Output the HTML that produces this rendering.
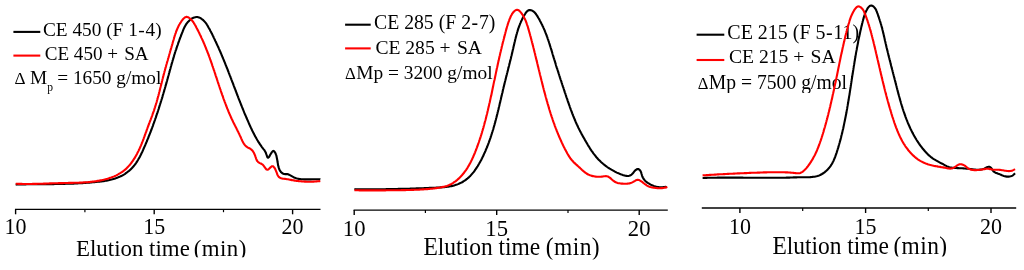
<!DOCTYPE html>
<html><head><meta charset="utf-8"><title>Elution time chromatograms</title>
<style>html,body{margin:0;padding:0;background:#fff}body{width:1024px;height:270px;overflow:hidden}</style></head>
<body>
<svg width="1024" height="270" viewBox="0 0 1024 270" style="display:block;font-family:'Liberation Serif','Times New Roman',serif" fill="#000">
<rect width="1024" height="270" fill="#fff"/>
<g style="opacity:0.999" fill="#000"><path d="M13.4 31.9 H40.3" stroke="#000" stroke-width="2.1" fill="none"/><path d="M13.4 55.6 H40.3" stroke="#f00" stroke-width="2.1" fill="none"/><text transform="translate(0 36.0) scale(1 1.01)" x="43.0" y="0" font-size="19.3" >CE 450 (F 1<tspan dx="0.5" letter-spacing="0.8">-</tspan>4)</text><text transform="translate(0 59.5) scale(1 1.01)" x="44.7" y="0" font-size="19.1" >CE 450 <tspan letter-spacing="1.4">+</tspan> SA</text><text transform="translate(0 84.4) scale(1 1.02)" y="0" font-size="19.3"><tspan x="14.4" font-size="17.2">Δ </tspan><tspan x="30">M</tspan><tspan x="47.2" font-size="11.6" dy="6.1">p </tspan><tspan x="57.2" dy="-6.1">= 1650 g/mol</tspan></text><path d="M15.0 209.3 H320.5" stroke="#000" stroke-width="1.3" fill="none"/><path d="M15.6 209.3 v5" stroke="#000" stroke-width="1.4" fill="none"/><path d="M154.2 209.3 v5" stroke="#000" stroke-width="1.4" fill="none"/><path d="M292.6 209.3 v5" stroke="#000" stroke-width="1.4" fill="none"/><path d="M84.9 209.3 v2.9" stroke="#000" stroke-width="1.2" fill="none"/><path d="M223.5 209.3 v2.9" stroke="#000" stroke-width="1.2" fill="none"/><text transform="translate(0 234.3) scale(1 1.05)" x="15.6" y="0" font-size="22" text-anchor="middle">10</text><text transform="translate(0 234.3) scale(1 1.05)" x="154.2" y="0" font-size="22" text-anchor="middle">15</text><text transform="translate(0 234.3) scale(1 1.05)" x="292.6" y="0" font-size="22" text-anchor="middle">20</text><text transform="translate(0 255.9) scale(1 1.05)" x="76.0" y="0" font-size="22.9" >Elution time <tspan dx="-1.7" letter-spacing="0.4">(min)</tspan></text><path d="M345.1 24.7 H370.7" stroke="#000" stroke-width="2.1" fill="none"/><path d="M345.1 48.4 H370.7" stroke="#f00" stroke-width="2.1" fill="none"/><text transform="translate(0 29.0) scale(1 1.01)" x="374.0" y="0" font-size="19.75" >CE 285 (F 2<tspan dx="0.5" letter-spacing="0.8">-</tspan>7)</text><text transform="translate(0 53.7) scale(1 1.01)" x="375.4" y="0" font-size="19.6" >CE 285 <tspan letter-spacing="1.4">+</tspan> SA</text><text transform="translate(0 79.1) scale(1 1.02)" y="0" font-size="19.4"><tspan x="345" font-size="16.8">Δ</tspan><tspan x="356.2">Mp = 3200 g/mol</tspan></text><path d="M353.6 210.1 H667.8" stroke="#000" stroke-width="1.3" fill="none"/><path d="M354.2 210.1 v5" stroke="#000" stroke-width="1.4" fill="none"/><path d="M496.7 210.1 v5" stroke="#000" stroke-width="1.4" fill="none"/><path d="M639.2 210.1 v5" stroke="#000" stroke-width="1.4" fill="none"/><path d="M425.4 210.1 v2.9" stroke="#000" stroke-width="1.2" fill="none"/><path d="M568.0 210.1 v2.9" stroke="#000" stroke-width="1.2" fill="none"/><text transform="translate(0 235.5) scale(1 1.05)" x="354.2" y="0" font-size="22.7" text-anchor="middle">10</text><text transform="translate(0 235.5) scale(1 1.05)" x="496.7" y="0" font-size="22.7" text-anchor="middle">15</text><text transform="translate(0 235.5) scale(1 1.05)" x="639.2" y="0" font-size="22.7" text-anchor="middle">20</text><text transform="translate(0 254.9) scale(1 1.05)" x="423.5" y="0" font-size="23.5" >Elution time <tspan dx="-0.3" letter-spacing="0.4">(min)</tspan></text><path d="M696.6 34.7 H724.3" stroke="#000" stroke-width="2.1" fill="none"/><path d="M696.6 60.0 H724.3" stroke="#f00" stroke-width="2.1" fill="none"/><text transform="translate(0 39.0) scale(1 1.01)" x="727.3" y="0" font-size="20" >CE 215 (F 5<tspan dx="0.4" letter-spacing="0.6">-</tspan>11)</text><text transform="translate(0 63.0) scale(1 1.01)" x="729.0" y="0" font-size="19.6" >CE 215 <tspan letter-spacing="1.4">+</tspan> SA</text><text transform="translate(0 88.8) scale(1 1.02)" y="0" font-size="19.65"><tspan x="697.8" font-size="16.6">Δ</tspan><tspan x="708.8">Mp = 7500 g/mol</tspan></text><path d="M701.8 208.0 H1016.2" stroke="#000" stroke-width="1.3" fill="none"/><path d="M739.9 208.0 v5" stroke="#000" stroke-width="1.4" fill="none"/><path d="M865.6 208.0 v5" stroke="#000" stroke-width="1.4" fill="none"/><path d="M991.0 208.0 v5" stroke="#000" stroke-width="1.4" fill="none"/><path d="M802.7 208.0 v2.9" stroke="#000" stroke-width="1.2" fill="none"/><path d="M928.3 208.0 v2.9" stroke="#000" stroke-width="1.2" fill="none"/><text transform="translate(0 233.7) scale(1 1.05)" x="739.9" y="0" font-size="22" text-anchor="middle">10</text><text transform="translate(0 233.7) scale(1 1.05)" x="865.6" y="0" font-size="22" text-anchor="middle">15</text><text transform="translate(0 233.7) scale(1 1.05)" x="991.0" y="0" font-size="22" text-anchor="middle">20</text><text transform="translate(0 254.2) scale(1 1.05)" x="772.4" y="0" font-size="23.45" >Elution time <tspan dx="-1.4" letter-spacing="0.4">(min)</tspan></text><rect x="0" y="257.3" width="340" height="13" fill="#fff"/><rect x="340" y="259.5" width="345" height="11" fill="#fff"/><rect x="685" y="256.5" width="339" height="14" fill="#fff"/></g>
<path d="M15.7 184.6 L16.7 184.5 L17.7 184.5 L18.7 184.5 L19.7 184.5 L20.7 184.4 L21.7 184.4 L22.7 184.4 L23.7 184.4 L24.7 184.4 L25.7 184.4 L26.7 184.3 L27.7 184.3 L28.7 184.3 L29.7 184.3 L30.7 184.3 L31.7 184.3 L32.7 184.3 L33.7 184.2 L34.7 184.2 L35.7 184.2 L36.7 184.2 L37.7 184.2 L38.7 184.2 L39.7 184.2 L40.7 184.2 L41.7 184.2 L42.7 184.2 L43.7 184.2 L44.7 184.2 L45.7 184.1 L46.7 184.1 L47.7 184.1 L48.7 184.1 L49.7 184.1 L50.7 184.1 L51.7 184.1 L52.7 184.1 L53.7 184.1 L54.7 184.0 L55.7 184.0 L56.7 184.0 L57.7 184.0 L58.7 184.0 L59.7 184.0 L60.7 183.9 L61.7 183.9 L62.7 183.9 L63.7 183.9 L64.7 183.9 L65.7 183.8 L66.7 183.8 L67.7 183.8 L68.7 183.7 L69.7 183.7 L70.7 183.7 L71.7 183.6 L72.6 183.6 L73.6 183.6 L74.6 183.5 L75.6 183.5 L76.6 183.4 L77.6 183.4 L78.6 183.3 L79.6 183.3 L80.6 183.2 L81.6 183.2 L82.6 183.1 L83.6 183.0 L84.6 183.0 L85.6 182.9 L86.6 182.8 L87.6 182.8 L88.6 182.7 L89.6 182.6 L90.6 182.5 L91.6 182.4 L92.6 182.3 L93.6 182.2 L94.6 182.1 L95.6 182.0 L96.7 181.9 L97.7 181.8 L98.7 181.7 L99.7 181.6 L100.7 181.5 L101.7 181.4 L102.7 181.2 L103.7 181.1 L104.7 180.9 L105.6 180.8 L106.6 180.6 L107.6 180.4 L108.6 180.2 L109.6 180.0 L110.5 179.8 L111.5 179.5 L112.5 179.3 L113.4 179.0 L114.4 178.7 L115.3 178.4 L116.3 178.1 L117.2 177.8 L118.1 177.4 L119.0 177.0 L119.9 176.6 L120.8 176.2 L121.7 175.8 L122.6 175.3 L123.4 174.8 L124.3 174.3 L125.1 173.8 L125.9 173.2 L126.7 172.6 L127.5 172.0 L128.3 171.4 L129.1 170.8 L129.9 170.1 L130.6 169.4 L131.3 168.7 L132.0 168.0 L132.7 167.2 L133.4 166.5 L134.0 165.7 L134.7 164.9 L135.3 164.1 L135.9 163.3 L136.4 162.5 L137.0 161.7 L137.5 160.8 L138.0 160.0 L138.5 159.1 L139.0 158.2 L139.5 157.4 L140.0 156.5 L140.4 155.6 L140.9 154.7 L141.3 153.8 L141.7 152.9 L142.2 152.0 L142.6 151.1 L143.0 150.2 L143.4 149.2 L143.8 148.3 L144.2 147.4 L144.6 146.5 L145.0 145.6 L145.4 144.7 L145.8 143.7 L146.2 142.8 L146.6 141.9 L147.0 141.0 L147.3 140.0 L147.7 139.1 L148.1 138.2 L148.5 137.3 L148.8 136.3 L149.2 135.4 L149.6 134.5 L149.9 133.5 L150.3 132.6 L150.7 131.7 L151.0 130.7 L151.4 129.8 L151.7 128.9 L152.1 127.9 L152.4 127.0 L152.8 126.1 L153.1 125.1 L153.4 124.2 L153.8 123.2 L154.1 122.3 L154.4 121.4 L154.8 120.4 L155.1 119.5 L155.4 118.5 L155.8 117.6 L156.1 116.6 L156.4 115.7 L156.7 114.7 L157.0 113.8 L157.4 112.9 L157.7 111.9 L158.0 111.0 L158.3 110.0 L158.6 109.1 L158.9 108.1 L159.2 107.1 L159.5 106.2 L159.8 105.2 L160.1 104.3 L160.4 103.3 L160.7 102.4 L161.0 101.4 L161.3 100.5 L161.6 99.5 L161.9 98.6 L162.2 97.6 L162.5 96.6 L162.7 95.7 L163.0 94.7 L163.3 93.8 L163.6 92.8 L163.9 91.8 L164.2 90.9 L164.4 89.9 L164.7 89.0 L165.0 88.0 L165.3 87.0 L165.5 86.1 L165.8 85.1 L166.1 84.1 L166.4 83.2 L166.6 82.2 L166.9 81.3 L167.2 80.3 L167.4 79.3 L167.7 78.4 L168.0 77.4 L168.2 76.4 L168.5 75.5 L168.8 74.5 L169.0 73.5 L169.3 72.6 L169.6 71.6 L169.8 70.6 L170.1 69.7 L170.4 68.7 L170.6 67.8 L170.9 66.8 L171.2 65.8 L171.4 64.9 L171.7 63.9 L172.0 62.9 L172.3 62.0 L172.5 61.0 L172.8 60.1 L173.1 59.1 L173.4 58.1 L173.7 57.2 L174.0 56.2 L174.2 55.3 L174.5 54.3 L174.8 53.4 L175.1 52.4 L175.4 51.5 L175.7 50.5 L176.1 49.6 L176.4 48.6 L176.7 47.7 L177.0 46.7 L177.3 45.8 L177.7 44.8 L178.0 43.9 L178.3 42.9 L178.7 42.0 L179.0 41.1 L179.3 40.1 L179.7 39.2 L180.0 38.2 L180.4 37.3 L180.8 36.4 L181.1 35.4 L181.5 34.5 L181.8 33.6 L182.2 32.6 L182.6 31.7 L182.9 30.8 L183.3 29.8 L183.7 28.9 L184.1 28.0 L184.6 27.1 L185.0 26.2 L185.5 25.4 L186.0 24.5 L186.6 23.7 L187.2 22.9 L187.8 22.1 L188.5 21.4 L189.2 20.7 L189.9 20.0 L190.8 19.3 L191.6 18.7 L192.5 18.2 L193.4 17.8 L194.4 17.4 L195.3 17.2 L196.3 17.0 L197.3 17.0 L198.2 17.2 L199.1 17.5 L200.1 17.9 L200.9 18.4 L201.7 19.0 L202.5 19.6 L203.3 20.2 L204.0 20.9 L204.6 21.6 L205.3 22.4 L205.9 23.1 L206.5 23.9 L207.0 24.8 L207.5 25.6 L208.0 26.5 L208.5 27.4 L209.0 28.3 L209.5 29.1 L210.0 30.0 L210.4 30.9 L210.9 31.8 L211.4 32.7 L211.8 33.6 L212.3 34.5 L212.7 35.4 L213.2 36.3 L213.6 37.2 L214.0 38.1 L214.5 39.1 L214.9 40.0 L215.3 40.9 L215.8 41.8 L216.2 42.7 L216.6 43.6 L217.0 44.5 L217.4 45.4 L217.9 46.3 L218.3 47.2 L218.7 48.1 L219.1 49.1 L219.5 50.0 L219.9 50.9 L220.3 51.8 L220.7 52.7 L221.1 53.6 L221.5 54.6 L221.8 55.5 L222.2 56.4 L222.6 57.3 L223.0 58.2 L223.4 59.2 L223.8 60.1 L224.1 61.0 L224.5 61.9 L224.9 62.8 L225.3 63.8 L225.6 64.7 L226.0 65.6 L226.4 66.6 L226.7 67.5 L227.1 68.4 L227.5 69.3 L227.8 70.3 L228.2 71.2 L228.6 72.1 L228.9 73.1 L229.3 74.0 L229.6 74.9 L230.0 75.9 L230.4 76.8 L230.7 77.7 L231.1 78.7 L231.4 79.6 L231.8 80.5 L232.1 81.5 L232.5 82.4 L232.9 83.3 L233.2 84.3 L233.6 85.2 L233.9 86.1 L234.3 87.1 L234.6 88.0 L235.0 88.9 L235.4 89.9 L235.7 90.8 L236.1 91.7 L236.4 92.7 L236.8 93.6 L237.1 94.5 L237.5 95.5 L237.9 96.4 L238.2 97.3 L238.6 98.3 L238.9 99.2 L239.3 100.1 L239.7 101.1 L240.0 102.0 L240.4 102.9 L240.8 103.9 L241.1 104.8 L241.5 105.7 L241.9 106.7 L242.3 107.6 L242.6 108.5 L243.0 109.4 L243.4 110.4 L243.8 111.3 L244.1 112.2 L244.5 113.2 L244.9 114.1 L245.3 115.0 L245.7 115.9 L246.1 116.8 L246.5 117.8 L246.9 118.7 L247.3 119.6 L247.7 120.5 L248.1 121.4 L248.5 122.4 L248.9 123.3 L249.3 124.2 L249.7 125.1 L250.1 126.0 L250.5 126.9 L250.9 127.8 L251.4 128.7 L251.8 129.6 L252.2 130.5 L252.7 131.4 L253.1 132.3 L253.6 133.2 L254.0 134.1 L254.5 135.0 L254.9 135.9 L255.4 136.7 L255.9 137.6 L256.4 138.5 L256.9 139.3 L257.4 140.2 L257.9 141.0 L258.4 141.9 L258.9 142.7 L259.5 143.5 L260.0 144.4 L260.6 145.2 L261.2 146.0 L261.7 146.8 L262.3 147.6 L262.9 148.3 L263.5 149.1 L264.2 149.9 L264.7 150.7 L265.3 151.7 L265.8 152.7 L266.2 153.9 L266.6 155.0 L267.0 156.1 L267.3 157.0 L267.7 157.5 L268.2 157.7 L268.7 157.3 L269.2 156.6 L269.8 155.6 L270.4 154.5 L271.1 153.4 L271.7 152.4 L272.4 151.6 L273.0 151.1 L273.6 150.9 L274.2 151.3 L274.7 151.9 L275.2 152.8 L275.7 153.8 L276.0 154.7 L276.4 155.7 L276.6 156.7 L276.8 157.7 L277.0 158.7 L277.2 159.7 L277.4 160.7 L277.5 161.8 L277.7 162.8 L277.9 163.9 L278.0 164.9 L278.3 165.9 L278.5 166.9 L278.8 167.9 L279.1 168.8 L279.5 169.7 L279.9 170.5 L280.5 171.3 L281.0 172.1 L281.7 172.7 L282.5 173.3 L283.3 173.7 L284.2 174.0 L285.2 174.1 L286.2 174.1 L287.2 174.1 L288.1 174.3 L289.0 174.7 L289.9 175.2 L290.8 175.7 L291.7 176.2 L292.6 176.7 L293.5 177.2 L294.4 177.6 L295.3 177.9 L296.2 178.2 L297.2 178.5 L298.1 178.7 L299.1 178.9 L300.1 179.0 L301.1 179.2 L302.1 179.3 L303.0 179.3 L304.0 179.4 L305.0 179.4 L306.1 179.4 L307.1 179.4 L308.1 179.4 L309.1 179.4 L310.1 179.4 L311.1 179.4 L312.1 179.3 L313.1 179.3 L314.1 179.3 L315.1 179.3 L316.1 179.3 L317.1 179.3 L318.1 179.3 L319.1 179.4 L320.1 179.4 L320.3 179.5" fill="none" stroke="#000" stroke-width="2.1" stroke-linejoin="round" stroke-linecap="butt"/>
<path d="M15.7 183.7 L16.7 183.8 L17.7 183.8 L18.7 183.9 L19.7 183.9 L20.7 183.9 L21.7 183.9 L22.7 184.0 L23.7 184.0 L24.7 184.0 L25.7 184.0 L26.7 184.0 L27.7 184.0 L28.7 184.0 L29.7 184.0 L30.7 184.0 L31.7 184.0 L32.7 183.9 L33.7 183.9 L34.7 183.9 L35.7 183.9 L36.7 183.9 L37.7 183.8 L38.7 183.8 L39.7 183.8 L40.7 183.7 L41.7 183.7 L42.7 183.7 L43.7 183.6 L44.7 183.6 L45.7 183.6 L46.7 183.5 L47.7 183.5 L48.7 183.5 L49.7 183.4 L50.7 183.4 L51.7 183.4 L52.7 183.3 L53.7 183.3 L54.7 183.3 L55.7 183.2 L56.7 183.2 L57.7 183.2 L58.7 183.1 L59.7 183.1 L60.7 183.1 L61.7 183.1 L62.7 183.1 L63.7 183.0 L64.7 183.0 L65.7 183.0 L66.7 183.0 L67.7 183.0 L68.7 182.9 L69.7 182.9 L70.7 182.9 L71.7 182.9 L72.7 182.9 L73.7 182.8 L74.7 182.8 L75.7 182.8 L76.6 182.8 L77.6 182.7 L78.6 182.7 L79.6 182.6 L80.6 182.6 L81.6 182.6 L82.6 182.5 L83.6 182.4 L84.6 182.4 L85.6 182.3 L86.6 182.2 L87.6 182.2 L88.6 182.1 L89.6 182.0 L90.6 181.9 L91.6 181.8 L92.6 181.6 L93.6 181.5 L94.6 181.4 L95.6 181.2 L96.6 181.1 L97.6 180.9 L98.6 180.8 L99.6 180.6 L100.6 180.4 L101.6 180.2 L102.6 180.0 L103.6 179.8 L104.6 179.5 L105.5 179.3 L106.5 179.0 L107.5 178.7 L108.4 178.4 L109.4 178.1 L110.3 177.8 L111.3 177.5 L112.2 177.1 L113.1 176.8 L114.1 176.4 L115.0 176.0 L115.9 175.6 L116.8 175.1 L117.6 174.7 L118.5 174.2 L119.3 173.7 L120.2 173.2 L121.0 172.7 L121.8 172.2 L122.6 171.6 L123.4 171.0 L124.2 170.4 L124.9 169.8 L125.7 169.2 L126.4 168.5 L127.1 167.8 L127.8 167.1 L128.4 166.4 L129.1 165.6 L129.8 164.9 L130.4 164.1 L131.0 163.3 L131.6 162.5 L132.2 161.7 L132.8 160.9 L133.3 160.0 L133.9 159.2 L134.4 158.3 L135.0 157.5 L135.5 156.6 L136.0 155.7 L136.5 154.8 L137.0 153.9 L137.4 153.0 L137.9 152.1 L138.4 151.1 L138.8 150.2 L139.2 149.3 L139.7 148.4 L140.1 147.4 L140.5 146.5 L140.9 145.6 L141.3 144.6 L141.7 143.7 L142.0 142.8 L142.4 141.9 L142.8 140.9 L143.1 140.0 L143.5 139.1 L143.8 138.2 L144.2 137.2 L144.5 136.3 L144.8 135.4 L145.2 134.5 L145.5 133.5 L145.8 132.6 L146.2 131.7 L146.5 130.8 L146.8 129.9 L147.2 128.9 L147.5 128.0 L147.8 127.1 L148.2 126.2 L148.5 125.2 L148.9 124.3 L149.2 123.4 L149.6 122.4 L149.9 121.5 L150.3 120.5 L150.7 119.6 L151.0 118.7 L151.4 117.7 L151.7 116.8 L152.1 115.8 L152.4 114.9 L152.7 113.9 L153.1 113.0 L153.4 112.0 L153.8 111.1 L154.1 110.1 L154.4 109.2 L154.7 108.2 L155.0 107.3 L155.3 106.3 L155.6 105.3 L155.9 104.4 L156.2 103.4 L156.5 102.5 L156.8 101.5 L157.0 100.5 L157.3 99.6 L157.6 98.6 L157.8 97.6 L158.1 96.7 L158.4 95.7 L158.6 94.7 L158.9 93.8 L159.1 92.8 L159.4 91.8 L159.6 90.9 L159.9 89.9 L160.1 88.9 L160.3 88.0 L160.6 87.0 L160.8 86.0 L161.1 85.1 L161.3 84.1 L161.6 83.1 L161.8 82.2 L162.0 81.2 L162.3 80.2 L162.5 79.3 L162.8 78.3 L163.0 77.3 L163.3 76.4 L163.5 75.4 L163.8 74.4 L164.0 73.5 L164.3 72.5 L164.5 71.5 L164.8 70.6 L165.1 69.6 L165.3 68.6 L165.6 67.7 L165.9 66.7 L166.1 65.8 L166.4 64.8 L166.7 63.8 L166.9 62.9 L167.2 61.9 L167.5 61.0 L167.8 60.0 L168.0 59.0 L168.3 58.1 L168.6 57.1 L168.9 56.1 L169.1 55.2 L169.4 54.2 L169.7 53.3 L170.0 52.3 L170.2 51.3 L170.5 50.4 L170.8 49.4 L171.1 48.4 L171.4 47.5 L171.6 46.5 L171.9 45.6 L172.2 44.6 L172.5 43.6 L172.7 42.7 L173.0 41.7 L173.3 40.7 L173.6 39.8 L173.9 38.8 L174.1 37.8 L174.4 36.9 L174.7 35.9 L175.0 35.0 L175.3 34.0 L175.7 33.1 L176.0 32.1 L176.3 31.2 L176.7 30.3 L177.1 29.3 L177.5 28.4 L177.9 27.5 L178.3 26.6 L178.7 25.7 L179.2 24.8 L179.7 24.0 L180.2 23.1 L180.8 22.3 L181.3 21.4 L181.9 20.6 L182.5 19.8 L183.2 19.0 L183.9 18.3 L184.6 17.7 L185.4 17.2 L186.2 16.9 L187.0 16.9 L188.0 17.2 L188.9 17.7 L189.9 18.5 L190.8 19.3 L191.5 20.0 L192.2 20.7 L192.8 21.5 L193.4 22.2 L193.9 23.1 L194.4 23.9 L194.9 24.8 L195.4 25.6 L195.9 26.5 L196.3 27.4 L196.8 28.3 L197.3 29.2 L197.7 30.1 L198.2 30.9 L198.6 31.8 L199.1 32.7 L199.5 33.6 L199.9 34.5 L200.4 35.4 L200.8 36.3 L201.2 37.2 L201.6 38.1 L202.1 39.1 L202.5 40.0 L202.9 40.9 L203.3 41.8 L203.7 42.7 L204.1 43.6 L204.5 44.5 L204.8 45.5 L205.2 46.4 L205.6 47.3 L206.0 48.2 L206.3 49.2 L206.7 50.1 L207.1 51.0 L207.4 52.0 L207.8 52.9 L208.2 53.8 L208.5 54.8 L208.9 55.7 L209.2 56.6 L209.6 57.6 L209.9 58.5 L210.2 59.5 L210.6 60.4 L210.9 61.3 L211.2 62.3 L211.6 63.2 L211.9 64.2 L212.2 65.1 L212.5 66.1 L212.9 67.0 L213.2 68.0 L213.5 68.9 L213.8 69.9 L214.2 70.8 L214.5 71.8 L214.8 72.7 L215.1 73.7 L215.4 74.6 L215.7 75.6 L216.0 76.5 L216.4 77.5 L216.7 78.4 L217.0 79.4 L217.3 80.3 L217.6 81.3 L217.9 82.2 L218.2 83.2 L218.6 84.1 L218.9 85.1 L219.2 86.0 L219.5 87.0 L219.8 87.9 L220.1 88.9 L220.5 89.8 L220.8 90.8 L221.1 91.7 L221.4 92.7 L221.8 93.6 L222.1 94.6 L222.4 95.5 L222.8 96.4 L223.1 97.4 L223.4 98.3 L223.8 99.3 L224.1 100.2 L224.5 101.1 L224.8 102.1 L225.2 103.0 L225.5 103.9 L225.9 104.9 L226.2 105.8 L226.6 106.7 L226.9 107.7 L227.3 108.6 L227.7 109.5 L228.1 110.4 L228.4 111.4 L228.8 112.3 L229.2 113.2 L229.6 114.1 L230.0 115.0 L230.4 115.9 L230.8 116.8 L231.2 117.8 L231.6 118.7 L232.1 119.6 L232.5 120.5 L232.9 121.4 L233.3 122.3 L233.8 123.2 L234.2 124.1 L234.7 125.0 L235.1 125.8 L235.6 126.7 L236.0 127.6 L236.5 128.5 L236.9 129.4 L237.4 130.3 L237.8 131.2 L238.3 132.1 L238.7 133.0 L239.2 133.9 L239.6 134.9 L240.0 135.8 L240.5 136.7 L240.9 137.6 L241.3 138.6 L241.7 139.5 L242.1 140.4 L242.5 141.3 L243.0 142.2 L243.5 143.1 L244.0 143.9 L244.6 144.7 L245.2 145.4 L245.9 146.1 L246.6 146.7 L247.5 147.3 L248.4 147.8 L249.3 148.2 L250.1 148.7 L251.0 149.3 L251.7 149.9 L252.4 150.6 L253.0 151.4 L253.5 152.2 L254.0 153.1 L254.4 154.0 L254.8 154.9 L255.2 155.9 L255.5 156.9 L255.9 157.9 L256.2 158.8 L256.6 159.8 L257.0 160.7 L257.6 161.4 L258.2 162.1 L259.0 162.6 L259.8 163.1 L260.8 163.5 L261.7 164.0 L262.6 164.6 L263.4 165.4 L264.1 166.3 L264.8 167.3 L265.4 168.3 L266.1 169.1 L266.7 169.6 L267.4 169.8 L268.1 169.6 L268.8 169.0 L269.6 168.2 L270.5 167.4 L271.3 166.7 L272.1 166.2 L272.8 166.2 L273.5 166.7 L274.2 167.4 L274.8 168.3 L275.3 169.3 L275.7 170.2 L276.1 171.2 L276.5 172.1 L276.9 173.2 L277.2 174.2 L277.7 175.2 L278.2 176.1 L278.8 176.9 L279.5 177.5 L280.3 177.9 L281.1 178.3 L282.0 178.5 L283.0 178.7 L284.0 178.8 L285.0 178.9 L286.0 179.0 L287.0 179.2 L287.9 179.3 L288.9 179.5 L289.9 179.7 L290.9 179.9 L291.8 180.1 L292.8 180.3 L293.8 180.4 L294.8 180.6 L295.8 180.7 L296.7 180.9 L297.7 181.0 L298.7 181.1 L299.7 181.2 L300.7 181.3 L301.7 181.4 L302.7 181.5 L303.7 181.5 L304.7 181.6 L305.7 181.6 L306.7 181.7 L307.7 181.7 L308.7 181.7 L309.7 181.7 L310.7 181.7 L311.7 181.7 L312.7 181.6 L313.7 181.6 L314.7 181.5 L315.7 181.5 L316.7 181.4 L317.7 181.3 L318.7 181.2 L319.7 181.1 L320.3 181.0" fill="none" stroke="#f00" stroke-width="2.1" stroke-linejoin="round" stroke-linecap="butt"/>
<path d="M354.4 189.1 L355.4 189.2 L356.4 189.2 L357.4 189.2 L358.4 189.2 L359.4 189.2 L360.4 189.2 L361.4 189.2 L362.4 189.2 L363.4 189.2 L364.4 189.2 L365.4 189.2 L366.4 189.2 L367.4 189.2 L368.4 189.2 L369.4 189.3 L370.4 189.3 L371.4 189.3 L372.4 189.2 L373.4 189.2 L374.4 189.2 L375.4 189.2 L376.4 189.2 L377.4 189.2 L378.4 189.2 L379.4 189.2 L380.4 189.2 L381.4 189.2 L382.4 189.2 L383.4 189.2 L384.4 189.2 L385.4 189.2 L386.4 189.1 L387.4 189.1 L388.4 189.1 L389.4 189.1 L390.4 189.1 L391.4 189.1 L392.4 189.1 L393.4 189.0 L394.4 189.0 L395.4 189.0 L396.4 189.0 L397.4 189.0 L398.4 188.9 L399.4 188.9 L400.4 188.9 L401.4 188.9 L402.4 188.9 L403.4 188.8 L404.4 188.8 L405.4 188.8 L406.4 188.7 L407.4 188.7 L408.4 188.7 L409.4 188.7 L410.4 188.6 L411.4 188.6 L412.4 188.6 L413.4 188.5 L414.4 188.5 L415.4 188.5 L416.4 188.4 L417.4 188.4 L418.4 188.4 L419.4 188.3 L420.4 188.3 L421.4 188.3 L422.4 188.2 L423.4 188.2 L424.4 188.1 L425.4 188.1 L426.4 188.1 L427.4 188.0 L428.4 188.0 L429.4 187.9 L430.4 187.9 L431.4 187.9 L432.4 187.8 L433.4 187.8 L434.4 187.7 L435.4 187.7 L436.4 187.6 L437.4 187.6 L438.4 187.5 L439.4 187.5 L440.4 187.4 L441.4 187.4 L442.4 187.3 L443.4 187.2 L444.4 187.1 L445.4 187.0 L446.4 186.9 L447.4 186.8 L448.4 186.7 L449.3 186.5 L450.3 186.3 L451.3 186.1 L452.3 185.9 L453.2 185.7 L454.2 185.4 L455.2 185.1 L456.1 184.8 L457.0 184.5 L458.0 184.1 L458.9 183.7 L459.8 183.3 L460.7 182.9 L461.6 182.5 L462.5 182.0 L463.3 181.5 L464.2 180.9 L465.0 180.4 L465.8 179.8 L466.6 179.2 L467.4 178.6 L468.1 177.9 L468.9 177.3 L469.6 176.6 L470.3 175.9 L471.0 175.1 L471.6 174.4 L472.3 173.6 L472.9 172.9 L473.6 172.1 L474.2 171.3 L474.8 170.4 L475.3 169.6 L475.9 168.8 L476.5 168.0 L477.0 167.1 L477.6 166.3 L478.1 165.4 L478.6 164.5 L479.1 163.7 L479.6 162.8 L480.1 161.9 L480.6 161.0 L481.1 160.2 L481.5 159.3 L482.0 158.4 L482.4 157.5 L482.9 156.6 L483.3 155.7 L483.7 154.8 L484.1 153.9 L484.5 153.0 L485.0 152.1 L485.4 151.1 L485.7 150.2 L486.1 149.3 L486.5 148.4 L486.9 147.5 L487.3 146.5 L487.6 145.6 L488.0 144.7 L488.3 143.8 L488.7 142.8 L489.0 141.9 L489.4 141.0 L489.7 140.0 L490.0 139.1 L490.4 138.1 L490.7 137.2 L491.0 136.2 L491.3 135.3 L491.6 134.3 L491.9 133.4 L492.2 132.4 L492.5 131.5 L492.8 130.5 L493.1 129.6 L493.4 128.6 L493.6 127.7 L493.9 126.7 L494.2 125.7 L494.5 124.8 L494.7 123.8 L495.0 122.9 L495.3 121.9 L495.5 120.9 L495.8 120.0 L496.0 119.0 L496.3 118.0 L496.5 117.1 L496.8 116.1 L497.0 115.1 L497.3 114.1 L497.5 113.2 L497.7 112.2 L498.0 111.2 L498.2 110.2 L498.5 109.3 L498.7 108.3 L498.9 107.3 L499.2 106.3 L499.4 105.4 L499.6 104.4 L499.8 103.4 L500.1 102.4 L500.3 101.5 L500.5 100.5 L500.8 99.5 L501.0 98.5 L501.2 97.6 L501.4 96.6 L501.7 95.6 L501.9 94.6 L502.1 93.7 L502.4 92.7 L502.6 91.7 L502.8 90.7 L503.0 89.8 L503.3 88.8 L503.5 87.8 L503.7 86.8 L504.0 85.9 L504.2 84.9 L504.5 83.9 L504.7 82.9 L504.9 82.0 L505.2 81.0 L505.4 80.0 L505.7 79.1 L505.9 78.1 L506.1 77.1 L506.4 76.2 L506.6 75.2 L506.9 74.2 L507.1 73.3 L507.4 72.3 L507.6 71.3 L507.9 70.4 L508.1 69.4 L508.3 68.4 L508.6 67.4 L508.8 66.5 L509.1 65.5 L509.3 64.5 L509.6 63.6 L509.8 62.6 L510.0 61.6 L510.3 60.7 L510.5 59.7 L510.8 58.7 L511.0 57.8 L511.2 56.8 L511.5 55.8 L511.7 54.9 L511.9 53.9 L512.2 52.9 L512.4 51.9 L512.6 51.0 L512.8 50.0 L513.1 49.0 L513.3 48.0 L513.5 47.1 L513.7 46.1 L514.0 45.1 L514.2 44.1 L514.4 43.2 L514.6 42.2 L514.9 41.2 L515.1 40.2 L515.3 39.3 L515.6 38.3 L515.8 37.3 L516.1 36.4 L516.3 35.4 L516.6 34.4 L516.9 33.5 L517.1 32.5 L517.4 31.6 L517.7 30.6 L518.0 29.6 L518.3 28.7 L518.6 27.7 L519.0 26.8 L519.3 25.9 L519.7 24.9 L520.0 24.0 L520.4 23.1 L520.8 22.1 L521.2 21.2 L521.7 20.3 L522.1 19.4 L522.5 18.5 L523.0 17.5 L523.5 16.6 L524.0 15.8 L524.5 14.9 L525.1 14.0 L525.6 13.1 L526.2 12.3 L526.9 11.5 L527.6 10.9 L528.3 10.4 L529.1 10.1 L530.0 10.0 L531.0 10.2 L532.0 10.5 L532.9 11.1 L533.8 11.7 L534.6 12.4 L535.3 13.2 L535.9 14.0 L536.5 14.8 L537.0 15.7 L537.6 16.5 L538.1 17.4 L538.6 18.3 L539.1 19.1 L539.6 20.0 L540.0 20.9 L540.5 21.8 L541.0 22.7 L541.4 23.5 L541.9 24.4 L542.3 25.3 L542.7 26.2 L543.2 27.1 L543.6 28.1 L544.0 29.0 L544.4 29.9 L544.8 30.8 L545.1 31.7 L545.5 32.7 L545.9 33.6 L546.2 34.5 L546.6 35.4 L546.9 36.4 L547.3 37.3 L547.6 38.3 L547.9 39.2 L548.3 40.1 L548.6 41.1 L548.9 42.0 L549.2 43.0 L549.5 43.9 L549.8 44.9 L550.1 45.9 L550.4 46.8 L550.7 47.8 L551.0 48.7 L551.3 49.7 L551.6 50.6 L551.9 51.6 L552.2 52.6 L552.4 53.5 L552.7 54.5 L553.0 55.4 L553.3 56.4 L553.6 57.4 L553.9 58.3 L554.2 59.3 L554.5 60.2 L554.8 61.2 L555.1 62.1 L555.4 63.1 L555.7 64.1 L555.9 65.0 L556.2 66.0 L556.5 66.9 L556.8 67.9 L557.2 68.8 L557.5 69.8 L557.8 70.7 L558.1 71.7 L558.4 72.6 L558.7 73.6 L559.0 74.5 L559.3 75.5 L559.6 76.4 L559.9 77.4 L560.2 78.3 L560.5 79.3 L560.8 80.2 L561.2 81.2 L561.5 82.1 L561.8 83.1 L562.1 84.0 L562.4 85.0 L562.7 85.9 L563.0 86.9 L563.4 87.8 L563.7 88.8 L564.0 89.7 L564.3 90.7 L564.6 91.6 L564.9 92.6 L565.3 93.5 L565.6 94.5 L565.9 95.4 L566.2 96.4 L566.5 97.3 L566.9 98.3 L567.2 99.2 L567.5 100.1 L567.8 101.1 L568.1 102.0 L568.5 103.0 L568.8 103.9 L569.1 104.9 L569.5 105.8 L569.8 106.8 L570.1 107.7 L570.5 108.6 L570.8 109.6 L571.2 110.5 L571.5 111.5 L571.9 112.4 L572.2 113.3 L572.6 114.3 L573.0 115.2 L573.3 116.1 L573.7 117.0 L574.1 118.0 L574.5 118.9 L574.8 119.8 L575.2 120.7 L575.6 121.7 L576.0 122.6 L576.4 123.5 L576.8 124.4 L577.3 125.3 L577.7 126.2 L578.1 127.1 L578.5 128.0 L579.0 128.9 L579.4 129.8 L579.9 130.7 L580.3 131.6 L580.8 132.5 L581.3 133.3 L581.7 134.2 L582.2 135.1 L582.7 136.0 L583.2 136.9 L583.7 137.7 L584.2 138.6 L584.7 139.5 L585.1 140.3 L585.7 141.2 L586.2 142.1 L586.7 142.9 L587.2 143.8 L587.7 144.7 L588.2 145.5 L588.7 146.4 L589.3 147.2 L589.8 148.1 L590.3 148.9 L590.9 149.8 L591.4 150.6 L592.0 151.4 L592.6 152.2 L593.2 153.1 L593.8 153.9 L594.4 154.6 L595.0 155.4 L595.6 156.2 L596.2 157.0 L596.9 157.7 L597.6 158.5 L598.2 159.2 L598.9 159.9 L599.6 160.6 L600.3 161.3 L601.0 162.0 L601.8 162.7 L602.5 163.3 L603.3 164.0 L604.1 164.6 L604.8 165.2 L605.6 165.8 L606.4 166.4 L607.2 167.0 L608.1 167.6 L608.9 168.1 L609.7 168.7 L610.6 169.2 L611.4 169.7 L612.3 170.2 L613.2 170.7 L614.1 171.2 L615.0 171.7 L615.9 172.1 L616.8 172.6 L617.8 173.0 L618.7 173.4 L619.6 173.8 L620.6 174.2 L621.6 174.5 L622.5 174.9 L623.5 175.2 L624.5 175.5 L625.4 175.8 L626.4 175.9 L627.3 176.0 L628.3 176.0 L629.2 175.8 L630.0 175.6 L630.8 175.1 L631.6 174.6 L632.4 173.8 L633.1 173.0 L633.8 172.1 L634.5 171.2 L635.2 170.4 L636.0 169.8 L636.7 169.3 L637.5 169.0 L638.3 169.0 L639.1 169.4 L639.7 170.0 L640.3 170.7 L640.8 171.6 L641.2 172.6 L641.5 173.7 L641.8 174.7 L642.1 175.8 L642.5 176.8 L642.9 177.7 L643.4 178.5 L644.0 179.3 L644.6 180.1 L645.2 180.8 L645.9 181.5 L646.7 182.1 L647.4 182.7 L648.2 183.2 L649.1 183.7 L649.9 184.2 L650.8 184.7 L651.8 185.1 L652.7 185.5 L653.6 185.9 L654.6 186.2 L655.6 186.5 L656.5 186.7 L657.5 187.0 L658.5 187.1 L659.5 187.2 L660.5 187.3 L661.5 187.3 L662.5 187.2 L663.4 187.1 L664.4 187.0 L665.4 186.9 L666.4 187.0 L667.0 187.1" fill="none" stroke="#000" stroke-width="2.1" stroke-linejoin="round" stroke-linecap="butt"/>
<path d="M354.4 190.3 L355.4 190.3 L356.4 190.3 L357.4 190.3 L358.4 190.3 L359.4 190.4 L360.4 190.4 L361.4 190.4 L362.4 190.4 L363.4 190.4 L364.4 190.4 L365.4 190.4 L366.4 190.4 L367.4 190.4 L368.4 190.4 L369.4 190.4 L370.4 190.4 L371.4 190.4 L372.4 190.4 L373.4 190.4 L374.4 190.4 L375.4 190.4 L376.4 190.4 L377.4 190.4 L378.4 190.4 L379.4 190.4 L380.4 190.4 L381.4 190.4 L382.4 190.4 L383.4 190.4 L384.4 190.4 L385.4 190.4 L386.4 190.3 L387.4 190.3 L388.4 190.3 L389.4 190.3 L390.4 190.3 L391.4 190.3 L392.4 190.3 L393.4 190.3 L394.4 190.2 L395.4 190.2 L396.4 190.2 L397.4 190.2 L398.4 190.2 L399.4 190.2 L400.4 190.2 L401.4 190.1 L402.4 190.1 L403.4 190.1 L404.4 190.1 L405.4 190.1 L406.4 190.0 L407.4 190.0 L408.4 190.0 L409.4 190.0 L410.4 190.0 L411.4 189.9 L412.4 189.9 L413.4 189.9 L414.4 189.8 L415.4 189.8 L416.4 189.7 L417.4 189.7 L418.4 189.7 L419.4 189.6 L420.4 189.5 L421.4 189.5 L422.4 189.4 L423.4 189.4 L424.4 189.3 L425.4 189.2 L426.4 189.1 L427.4 189.1 L428.4 189.0 L429.4 188.9 L430.4 188.8 L431.4 188.7 L432.4 188.6 L433.3 188.5 L434.3 188.4 L435.3 188.2 L436.3 188.1 L437.3 188.0 L438.3 187.8 L439.3 187.7 L440.3 187.5 L441.3 187.3 L442.2 187.1 L443.2 186.9 L444.2 186.7 L445.1 186.4 L446.1 186.2 L447.0 185.9 L448.0 185.5 L448.9 185.1 L449.8 184.7 L450.7 184.3 L451.6 183.8 L452.4 183.3 L453.3 182.8 L454.1 182.2 L455.0 181.7 L455.8 181.1 L456.6 180.4 L457.4 179.8 L458.1 179.1 L458.9 178.4 L459.6 177.7 L460.3 177.0 L461.0 176.3 L461.7 175.6 L462.3 174.8 L463.0 174.0 L463.6 173.3 L464.2 172.5 L464.8 171.7 L465.4 170.9 L466.0 170.1 L466.5 169.3 L467.1 168.4 L467.6 167.6 L468.1 166.7 L468.6 165.9 L469.1 165.0 L469.6 164.1 L470.1 163.3 L470.5 162.4 L471.0 161.5 L471.4 160.6 L471.9 159.7 L472.3 158.8 L472.7 157.9 L473.1 157.0 L473.5 156.0 L473.9 155.1 L474.3 154.2 L474.7 153.3 L475.1 152.3 L475.4 151.4 L475.8 150.5 L476.2 149.5 L476.5 148.6 L476.9 147.6 L477.2 146.7 L477.6 145.8 L477.9 144.8 L478.2 143.9 L478.6 142.9 L478.9 142.0 L479.2 141.0 L479.5 140.1 L479.8 139.1 L480.2 138.2 L480.5 137.2 L480.8 136.3 L481.1 135.3 L481.4 134.4 L481.7 133.4 L482.0 132.5 L482.2 131.5 L482.5 130.6 L482.8 129.6 L483.1 128.7 L483.4 127.7 L483.6 126.7 L483.9 125.8 L484.2 124.8 L484.4 123.8 L484.7 122.9 L484.9 121.9 L485.2 121.0 L485.5 120.0 L485.7 119.0 L486.0 118.1 L486.2 117.1 L486.4 116.1 L486.7 115.1 L486.9 114.2 L487.2 113.2 L487.4 112.2 L487.6 111.3 L487.9 110.3 L488.1 109.3 L488.3 108.3 L488.5 107.4 L488.8 106.4 L489.0 105.4 L489.2 104.4 L489.4 103.5 L489.7 102.5 L489.9 101.5 L490.1 100.5 L490.3 99.6 L490.5 98.6 L490.7 97.6 L490.9 96.6 L491.2 95.7 L491.4 94.7 L491.6 93.7 L491.8 92.7 L492.0 91.7 L492.2 90.8 L492.4 89.8 L492.6 88.8 L492.8 87.8 L493.0 86.8 L493.2 85.9 L493.4 84.9 L493.6 83.9 L493.8 82.9 L494.0 81.9 L494.2 81.0 L494.5 80.0 L494.7 79.0 L494.9 78.0 L495.1 77.0 L495.3 76.1 L495.5 75.1 L495.7 74.1 L495.9 73.1 L496.1 72.1 L496.3 71.2 L496.5 70.2 L496.7 69.2 L496.9 68.2 L497.2 67.2 L497.4 66.3 L497.6 65.3 L497.8 64.3 L498.0 63.3 L498.2 62.4 L498.4 61.4 L498.7 60.4 L498.9 59.4 L499.1 58.5 L499.3 57.5 L499.5 56.5 L499.8 55.5 L500.0 54.6 L500.2 53.6 L500.4 52.6 L500.7 51.6 L500.9 50.7 L501.1 49.7 L501.4 48.7 L501.6 47.7 L501.8 46.8 L502.1 45.8 L502.3 44.8 L502.5 43.9 L502.8 42.9 L503.0 41.9 L503.3 41.0 L503.5 40.0 L503.8 39.0 L504.0 38.1 L504.3 37.1 L504.5 36.1 L504.8 35.2 L505.0 34.2 L505.3 33.2 L505.5 32.3 L505.8 31.3 L506.0 30.4 L506.3 29.4 L506.6 28.4 L506.8 27.5 L507.1 26.5 L507.4 25.6 L507.7 24.6 L508.0 23.7 L508.3 22.7 L508.6 21.8 L509.0 20.8 L509.3 19.9 L509.7 18.9 L510.1 18.0 L510.5 17.0 L510.9 16.1 L511.4 15.2 L511.9 14.2 L512.5 13.3 L513.1 12.5 L513.8 11.7 L514.5 11.0 L515.4 10.4 L516.2 10.0 L517.1 9.8 L517.9 10.0 L518.7 10.3 L519.4 10.9 L520.1 11.6 L520.8 12.4 L521.4 13.2 L522.0 14.0 L522.6 14.8 L523.1 15.7 L523.6 16.5 L524.1 17.4 L524.5 18.3 L525.0 19.2 L525.4 20.1 L525.8 21.0 L526.1 22.0 L526.5 22.9 L526.8 23.9 L527.1 24.8 L527.5 25.8 L527.8 26.7 L528.1 27.7 L528.3 28.7 L528.6 29.6 L528.9 30.6 L529.2 31.6 L529.4 32.6 L529.7 33.5 L530.0 34.5 L530.2 35.5 L530.5 36.4 L530.8 37.4 L531.0 38.4 L531.3 39.3 L531.5 40.3 L531.8 41.3 L532.0 42.2 L532.3 43.2 L532.5 44.2 L532.8 45.1 L533.0 46.1 L533.3 47.0 L533.5 48.0 L533.8 49.0 L534.0 49.9 L534.2 50.9 L534.5 51.9 L534.7 52.8 L535.0 53.8 L535.2 54.8 L535.4 55.7 L535.7 56.7 L535.9 57.7 L536.1 58.7 L536.4 59.6 L536.6 60.6 L536.9 61.6 L537.1 62.5 L537.3 63.5 L537.6 64.5 L537.8 65.5 L538.0 66.4 L538.3 67.4 L538.5 68.4 L538.7 69.3 L539.0 70.3 L539.2 71.3 L539.5 72.3 L539.7 73.2 L539.9 74.2 L540.2 75.2 L540.4 76.1 L540.7 77.1 L540.9 78.1 L541.1 79.1 L541.4 80.0 L541.6 81.0 L541.9 82.0 L542.1 82.9 L542.3 83.9 L542.6 84.9 L542.8 85.9 L543.1 86.8 L543.3 87.8 L543.6 88.8 L543.8 89.7 L544.1 90.7 L544.3 91.7 L544.6 92.6 L544.9 93.6 L545.1 94.6 L545.4 95.5 L545.6 96.5 L545.9 97.5 L546.2 98.4 L546.4 99.4 L546.7 100.4 L547.0 101.3 L547.3 102.3 L547.5 103.3 L547.8 104.2 L548.1 105.2 L548.4 106.1 L548.7 107.1 L548.9 108.1 L549.2 109.0 L549.5 110.0 L549.8 110.9 L550.1 111.9 L550.4 112.8 L550.7 113.8 L551.0 114.7 L551.3 115.7 L551.6 116.6 L552.0 117.6 L552.3 118.5 L552.6 119.5 L552.9 120.4 L553.2 121.4 L553.6 122.3 L553.9 123.2 L554.3 124.2 L554.6 125.1 L554.9 126.1 L555.3 127.0 L555.6 127.9 L556.0 128.9 L556.4 129.8 L556.7 130.7 L557.1 131.6 L557.5 132.6 L557.8 133.5 L558.2 134.4 L558.6 135.3 L559.0 136.3 L559.4 137.2 L559.8 138.1 L560.2 139.0 L560.6 139.9 L561.0 140.8 L561.4 141.7 L561.8 142.7 L562.3 143.6 L562.7 144.5 L563.1 145.4 L563.6 146.3 L564.0 147.2 L564.5 148.1 L564.9 149.0 L565.4 149.9 L565.9 150.7 L566.3 151.6 L566.8 152.5 L567.3 153.4 L567.8 154.3 L568.3 155.1 L568.8 156.0 L569.4 156.8 L569.9 157.7 L570.5 158.5 L571.1 159.2 L571.7 160.0 L572.4 160.7 L573.1 161.5 L573.7 162.2 L574.4 162.9 L575.2 163.6 L575.9 164.2 L576.6 164.9 L577.4 165.6 L578.1 166.3 L578.9 167.0 L579.6 167.6 L580.3 168.3 L581.1 169.0 L581.8 169.7 L582.6 170.4 L583.3 171.1 L584.1 171.7 L584.9 172.3 L585.7 172.9 L586.5 173.5 L587.4 174.0 L588.2 174.5 L589.1 174.9 L590.0 175.3 L591.0 175.6 L591.9 175.9 L592.9 176.1 L593.9 176.3 L594.8 176.5 L595.8 176.6 L596.8 176.7 L597.9 176.8 L598.9 176.8 L599.9 176.7 L600.9 176.7 L601.9 176.6 L602.9 176.5 L603.9 176.3 L604.9 176.2 L605.9 176.1 L606.8 176.2 L607.7 176.4 L608.5 176.8 L609.3 177.3 L610.1 177.9 L610.9 178.6 L611.6 179.3 L612.4 180.0 L613.2 180.6 L614.0 181.2 L614.8 181.8 L615.7 182.2 L616.6 182.6 L617.5 182.9 L618.5 183.2 L619.5 183.3 L620.5 183.5 L621.5 183.6 L622.6 183.6 L623.6 183.7 L624.6 183.7 L625.6 183.7 L626.7 183.7 L627.6 183.6 L628.6 183.5 L629.6 183.4 L630.5 183.1 L631.4 182.8 L632.3 182.4 L633.2 181.9 L634.1 181.3 L635.0 180.8 L635.8 180.3 L636.7 180.0 L637.5 179.8 L638.4 179.9 L639.2 180.1 L640.1 180.6 L640.9 181.1 L641.7 181.6 L642.5 182.2 L643.3 182.9 L644.1 183.5 L644.9 184.1 L645.8 184.7 L646.6 185.3 L647.5 185.8 L648.4 186.3 L649.4 186.7 L650.3 187.0 L651.3 187.2 L652.3 187.5 L653.3 187.6 L654.3 187.8 L655.2 187.9 L656.2 188.0 L657.2 188.1 L658.2 188.2 L659.2 188.2 L660.2 188.2 L661.1 188.1 L662.1 188.1 L663.1 188.0 L664.1 187.8 L665.1 187.6 L666.1 187.4 L667.1 187.1 L667.3 187.0" fill="none" stroke="#f00" stroke-width="2.1" stroke-linejoin="round" stroke-linecap="butt"/>
<path d="M702.6 178.0 L703.6 178.0 L704.6 177.9 L705.6 177.9 L706.6 177.9 L707.6 177.8 L708.6 177.8 L709.6 177.8 L710.6 177.8 L711.6 177.7 L712.6 177.7 L713.6 177.7 L714.6 177.7 L715.6 177.7 L716.6 177.7 L717.6 177.6 L718.6 177.6 L719.6 177.6 L720.6 177.6 L721.6 177.6 L722.6 177.6 L723.6 177.6 L724.6 177.6 L725.6 177.6 L726.6 177.6 L727.6 177.6 L728.6 177.6 L729.6 177.6 L730.6 177.6 L731.6 177.6 L732.6 177.6 L733.6 177.6 L734.6 177.6 L735.6 177.6 L736.6 177.6 L737.6 177.6 L738.6 177.6 L739.6 177.6 L740.6 177.6 L741.6 177.6 L742.6 177.6 L743.6 177.7 L744.6 177.7 L745.6 177.7 L746.6 177.7 L747.6 177.7 L748.6 177.7 L749.6 177.7 L750.6 177.7 L751.6 177.7 L752.6 177.7 L753.6 177.7 L754.6 177.8 L755.6 177.8 L756.6 177.8 L757.6 177.8 L758.6 177.8 L759.6 177.8 L760.6 177.8 L761.6 177.8 L762.6 177.8 L763.6 177.8 L764.6 177.8 L765.6 177.8 L766.6 177.8 L767.6 177.8 L768.6 177.8 L769.6 177.8 L770.6 177.8 L771.6 177.8 L772.6 177.8 L773.6 177.8 L774.6 177.8 L775.6 177.8 L776.6 177.8 L777.6 177.8 L778.6 177.8 L779.6 177.8 L780.6 177.7 L781.6 177.7 L782.6 177.7 L783.6 177.7 L784.6 177.7 L785.6 177.7 L786.6 177.6 L787.5 177.6 L788.5 177.6 L789.5 177.6 L790.5 177.5 L791.5 177.5 L792.5 177.5 L793.5 177.4 L794.5 177.4 L795.5 177.4 L796.5 177.4 L797.5 177.3 L798.5 177.3 L799.5 177.3 L800.5 177.3 L801.5 177.3 L802.5 177.3 L803.6 177.2 L804.6 177.2 L805.6 177.2 L806.6 177.2 L807.6 177.2 L808.6 177.2 L809.7 177.2 L810.7 177.1 L811.7 177.0 L812.7 176.9 L813.6 176.8 L814.6 176.7 L815.6 176.5 L816.5 176.3 L817.5 176.0 L818.4 175.7 L819.3 175.4 L820.2 175.0 L821.1 174.5 L822.0 174.0 L822.8 173.5 L823.7 173.0 L824.5 172.4 L825.2 171.7 L826.0 171.1 L826.7 170.4 L827.5 169.7 L828.2 168.9 L828.8 168.2 L829.5 167.4 L830.1 166.6 L830.7 165.8 L831.2 164.9 L831.8 164.1 L832.3 163.2 L832.7 162.3 L833.2 161.5 L833.6 160.6 L834.0 159.6 L834.4 158.7 L834.8 157.8 L835.2 156.9 L835.5 155.9 L835.8 155.0 L836.2 154.0 L836.5 153.1 L836.8 152.1 L837.1 151.2 L837.4 150.2 L837.7 149.3 L838.0 148.3 L838.3 147.4 L838.6 146.4 L838.8 145.4 L839.1 144.5 L839.4 143.5 L839.7 142.5 L839.9 141.6 L840.2 140.6 L840.5 139.7 L840.7 138.7 L841.0 137.7 L841.2 136.7 L841.4 135.8 L841.7 134.8 L841.9 133.8 L842.2 132.9 L842.4 131.9 L842.6 130.9 L842.8 130.0 L843.1 129.0 L843.3 128.0 L843.5 127.0 L843.7 126.1 L843.9 125.1 L844.1 124.1 L844.3 123.1 L844.5 122.1 L844.7 121.2 L844.9 120.2 L845.1 119.2 L845.3 118.2 L845.5 117.2 L845.7 116.3 L845.9 115.3 L846.1 114.3 L846.3 113.3 L846.5 112.3 L846.6 111.4 L846.8 110.4 L847.0 109.4 L847.2 108.4 L847.3 107.4 L847.5 106.4 L847.7 105.4 L847.8 104.5 L848.0 103.5 L848.2 102.5 L848.3 101.5 L848.5 100.5 L848.7 99.5 L848.8 98.5 L849.0 97.5 L849.1 96.6 L849.3 95.6 L849.5 94.6 L849.6 93.6 L849.8 92.6 L849.9 91.6 L850.1 90.6 L850.2 89.6 L850.4 88.6 L850.5 87.7 L850.7 86.7 L850.8 85.7 L851.0 84.7 L851.1 83.7 L851.3 82.7 L851.4 81.7 L851.6 80.7 L851.7 79.7 L851.9 78.8 L852.0 77.8 L852.2 76.8 L852.3 75.8 L852.5 74.8 L852.7 73.8 L852.8 72.8 L853.0 71.8 L853.1 70.8 L853.3 69.9 L853.4 68.9 L853.6 67.9 L853.7 66.9 L853.9 65.9 L854.1 64.9 L854.2 63.9 L854.4 63.0 L854.5 62.0 L854.7 61.0 L854.9 60.0 L855.0 59.0 L855.2 58.0 L855.4 57.0 L855.5 56.1 L855.7 55.1 L855.9 54.1 L856.0 53.1 L856.2 52.1 L856.4 51.1 L856.6 50.1 L856.8 49.2 L856.9 48.2 L857.1 47.2 L857.3 46.2 L857.5 45.2 L857.7 44.3 L857.9 43.3 L858.1 42.3 L858.2 41.3 L858.4 40.3 L858.6 39.3 L858.8 38.4 L859.0 37.4 L859.3 36.4 L859.5 35.4 L859.7 34.5 L859.9 33.5 L860.1 32.5 L860.3 31.5 L860.5 30.5 L860.8 29.6 L861.0 28.6 L861.2 27.6 L861.4 26.6 L861.7 25.7 L861.9 24.7 L862.1 23.7 L862.4 22.8 L862.6 21.8 L862.9 20.8 L863.1 19.9 L863.4 18.9 L863.7 17.9 L863.9 17.0 L864.2 16.0 L864.5 15.1 L864.8 14.1 L865.2 13.2 L865.6 12.2 L866.0 11.3 L866.5 10.4 L867.0 9.5 L867.5 8.5 L868.1 7.7 L868.8 6.8 L869.5 6.2 L870.3 5.7 L871.1 5.5 L871.9 5.6 L872.8 6.0 L873.6 6.6 L874.3 7.4 L875.0 8.2 L875.6 9.1 L876.1 10.0 L876.5 11.0 L876.9 11.9 L877.2 12.9 L877.6 13.8 L877.9 14.8 L878.2 15.8 L878.6 16.7 L878.9 17.6 L879.2 18.6 L879.5 19.5 L879.8 20.5 L880.1 21.4 L880.4 22.3 L880.7 23.3 L881.0 24.2 L881.3 25.2 L881.5 26.1 L881.8 27.1 L882.1 28.1 L882.3 29.0 L882.5 30.0 L882.8 31.0 L883.0 32.0 L883.2 32.9 L883.5 33.9 L883.7 34.9 L883.9 35.9 L884.2 36.9 L884.4 37.9 L884.6 38.8 L884.8 39.8 L885.0 40.8 L885.3 41.8 L885.5 42.8 L885.7 43.7 L886.0 44.7 L886.2 45.7 L886.4 46.7 L886.6 47.6 L886.9 48.6 L887.1 49.6 L887.4 50.6 L887.6 51.5 L887.8 52.5 L888.1 53.5 L888.3 54.4 L888.5 55.4 L888.8 56.4 L889.0 57.3 L889.3 58.3 L889.5 59.3 L889.8 60.2 L890.0 61.2 L890.3 62.1 L890.5 63.1 L890.7 64.1 L891.0 65.0 L891.2 66.0 L891.5 67.0 L891.7 67.9 L892.0 68.9 L892.2 69.8 L892.5 70.8 L892.7 71.8 L893.0 72.7 L893.2 73.7 L893.5 74.7 L893.7 75.6 L894.0 76.6 L894.2 77.6 L894.5 78.5 L894.7 79.5 L895.0 80.5 L895.2 81.4 L895.5 82.4 L895.7 83.4 L896.0 84.4 L896.2 85.3 L896.5 86.3 L896.7 87.3 L897.0 88.2 L897.2 89.2 L897.5 90.2 L897.7 91.2 L898.0 92.1 L898.2 93.1 L898.5 94.1 L898.8 95.1 L899.0 96.0 L899.3 97.0 L899.6 98.0 L899.8 98.9 L900.1 99.9 L900.4 100.9 L900.7 101.8 L900.9 102.8 L901.2 103.8 L901.5 104.7 L901.8 105.7 L902.1 106.7 L902.4 107.6 L902.7 108.6 L903.0 109.5 L903.3 110.5 L903.6 111.4 L904.0 112.4 L904.3 113.3 L904.6 114.3 L905.0 115.2 L905.3 116.1 L905.6 117.1 L906.0 118.0 L906.3 118.9 L906.7 119.9 L907.1 120.8 L907.4 121.7 L907.8 122.7 L908.2 123.6 L908.6 124.5 L909.0 125.4 L909.4 126.3 L909.8 127.2 L910.2 128.1 L910.6 129.0 L911.1 129.9 L911.5 130.8 L912.0 131.7 L912.4 132.6 L912.9 133.4 L913.3 134.3 L913.8 135.2 L914.3 136.1 L914.8 136.9 L915.3 137.8 L915.8 138.6 L916.3 139.5 L916.8 140.3 L917.4 141.2 L917.9 142.0 L918.5 142.8 L919.0 143.6 L919.6 144.5 L920.2 145.3 L920.8 146.1 L921.4 146.9 L922.0 147.7 L922.6 148.5 L923.3 149.3 L923.9 150.0 L924.6 150.8 L925.2 151.6 L925.9 152.3 L926.6 153.1 L927.3 153.8 L928.0 154.5 L928.7 155.2 L929.5 155.8 L930.3 156.5 L931.0 157.1 L931.8 157.7 L932.6 158.3 L933.5 158.9 L934.3 159.4 L935.2 159.9 L936.0 160.4 L936.9 160.9 L937.8 161.4 L938.7 161.9 L939.5 162.3 L940.4 162.8 L941.3 163.3 L942.2 163.7 L943.1 164.2 L943.9 164.7 L944.8 165.2 L945.7 165.6 L946.6 166.1 L947.4 166.5 L948.3 166.8 L949.3 167.2 L950.2 167.4 L951.2 167.6 L952.2 167.8 L953.2 167.9 L954.2 167.9 L955.2 168.0 L956.3 168.0 L957.3 168.1 L958.3 168.1 L959.3 168.2 L960.3 168.2 L961.3 168.3 L962.3 168.3 L963.3 168.4 L964.3 168.5 L965.2 168.5 L966.2 168.6 L967.2 168.7 L968.2 168.8 L969.2 168.9 L970.2 169.0 L971.2 169.1 L972.2 169.2 L973.2 169.4 L974.2 169.5 L975.2 169.6 L976.2 169.7 L977.2 169.7 L978.2 169.7 L979.2 169.7 L980.2 169.6 L981.2 169.5 L982.2 169.3 L983.1 169.0 L984.1 168.6 L985.0 168.2 L986.0 167.7 L986.9 167.3 L987.8 166.9 L988.6 166.7 L989.4 166.8 L990.1 167.1 L990.8 167.6 L991.4 168.3 L992.0 169.2 L992.5 170.1 L993.1 170.9 L993.8 171.7 L994.6 172.2 L995.4 172.7 L996.3 173.0 L997.2 173.3 L998.2 173.7 L999.1 174.0 L1000.0 174.4 L1000.9 174.8 L1001.9 175.3 L1002.8 175.6 L1003.8 176.0 L1004.7 176.2 L1005.7 176.4 L1006.7 176.6 L1007.7 176.6 L1008.7 176.6 L1009.7 176.5 L1010.6 176.3 L1011.6 176.0 L1012.5 175.6 L1013.3 175.0 L1014.1 174.3 L1014.8 173.5 L1015.0 173.3" fill="none" stroke="#000" stroke-width="2.1" stroke-linejoin="round" stroke-linecap="butt"/>
<path d="M702.6 175.4 L703.6 175.3 L704.6 175.3 L705.6 175.2 L706.6 175.1 L707.6 175.1 L708.6 175.0 L709.6 174.9 L710.6 174.9 L711.6 174.8 L712.6 174.7 L713.6 174.7 L714.6 174.6 L715.6 174.6 L716.6 174.5 L717.6 174.4 L718.6 174.4 L719.6 174.3 L720.6 174.3 L721.6 174.2 L722.6 174.2 L723.6 174.1 L724.6 174.1 L725.6 174.0 L726.6 174.0 L727.6 173.9 L728.6 173.9 L729.6 173.8 L730.5 173.8 L731.5 173.7 L732.5 173.7 L733.5 173.6 L734.5 173.6 L735.5 173.5 L736.5 173.5 L737.5 173.4 L738.5 173.4 L739.5 173.4 L740.5 173.3 L741.5 173.3 L742.5 173.2 L743.5 173.2 L744.5 173.1 L745.5 173.1 L746.5 173.1 L747.5 173.0 L748.5 173.0 L749.5 172.9 L750.5 172.9 L751.5 172.8 L752.5 172.8 L753.5 172.8 L754.5 172.7 L755.5 172.7 L756.5 172.7 L757.5 172.6 L758.5 172.6 L759.5 172.6 L760.5 172.5 L761.5 172.5 L762.5 172.5 L763.5 172.4 L764.5 172.4 L765.5 172.4 L766.5 172.4 L767.5 172.3 L768.5 172.3 L769.5 172.3 L770.5 172.3 L771.5 172.3 L772.5 172.3 L773.5 172.3 L774.5 172.3 L775.5 172.2 L776.5 172.2 L777.5 172.2 L778.5 172.3 L779.5 172.3 L780.5 172.3 L781.5 172.3 L782.5 172.3 L783.5 172.3 L784.5 172.3 L785.5 172.4 L786.5 172.4 L787.5 172.4 L788.5 172.5 L789.5 172.5 L790.5 172.6 L791.5 172.7 L792.5 172.8 L793.5 172.9 L794.5 173.0 L795.5 173.1 L796.5 173.2 L797.5 173.3 L798.5 173.3 L799.4 173.2 L800.3 172.9 L801.1 172.6 L802.0 172.1 L802.8 171.6 L803.5 171.0 L804.3 170.3 L805.0 169.6 L805.7 168.9 L806.4 168.1 L807.0 167.3 L807.7 166.5 L808.3 165.7 L808.9 164.8 L809.5 164.0 L810.1 163.2 L810.6 162.3 L811.2 161.5 L811.7 160.6 L812.2 159.8 L812.8 158.9 L813.2 158.0 L813.7 157.1 L814.2 156.2 L814.6 155.4 L815.1 154.5 L815.5 153.6 L815.9 152.7 L816.4 151.8 L816.8 150.8 L817.2 149.9 L817.5 149.0 L817.9 148.1 L818.3 147.2 L818.6 146.2 L819.0 145.3 L819.3 144.4 L819.7 143.4 L820.0 142.5 L820.3 141.5 L820.7 140.6 L821.0 139.7 L821.3 138.7 L821.6 137.8 L821.9 136.8 L822.2 135.9 L822.5 134.9 L822.8 134.0 L823.1 133.0 L823.4 132.1 L823.7 131.1 L823.9 130.1 L824.2 129.2 L824.5 128.2 L824.8 127.3 L825.1 126.3 L825.3 125.3 L825.6 124.4 L825.9 123.4 L826.1 122.5 L826.4 121.5 L826.6 120.5 L826.9 119.6 L827.2 118.6 L827.4 117.6 L827.7 116.7 L827.9 115.7 L828.2 114.7 L828.4 113.8 L828.6 112.8 L828.9 111.8 L829.1 110.9 L829.4 109.9 L829.6 108.9 L829.8 107.9 L830.1 107.0 L830.3 106.0 L830.5 105.0 L830.7 104.0 L831.0 103.1 L831.2 102.1 L831.4 101.1 L831.6 100.1 L831.9 99.2 L832.1 98.2 L832.3 97.2 L832.5 96.2 L832.7 95.3 L832.9 94.3 L833.2 93.3 L833.4 92.3 L833.6 91.3 L833.8 90.4 L834.0 89.4 L834.2 88.4 L834.4 87.4 L834.6 86.4 L834.8 85.5 L835.0 84.5 L835.2 83.5 L835.5 82.5 L835.7 81.5 L835.9 80.6 L836.1 79.6 L836.3 78.6 L836.5 77.6 L836.7 76.6 L836.9 75.7 L837.1 74.7 L837.3 73.7 L837.5 72.7 L837.7 71.7 L837.9 70.8 L838.1 69.8 L838.3 68.8 L838.5 67.8 L838.7 66.8 L838.9 65.9 L839.1 64.9 L839.3 63.9 L839.5 62.9 L839.7 61.9 L839.9 61.0 L840.1 60.0 L840.3 59.0 L840.5 58.0 L840.7 57.0 L840.9 56.1 L841.1 55.1 L841.3 54.1 L841.6 53.1 L841.8 52.1 L842.0 51.2 L842.2 50.2 L842.4 49.2 L842.6 48.2 L842.8 47.3 L843.1 46.3 L843.3 45.3 L843.5 44.3 L843.7 43.4 L843.9 42.4 L844.2 41.4 L844.4 40.5 L844.6 39.5 L844.9 38.5 L845.1 37.5 L845.3 36.6 L845.6 35.6 L845.8 34.6 L846.0 33.7 L846.3 32.7 L846.5 31.7 L846.8 30.8 L847.0 29.8 L847.3 28.8 L847.5 27.9 L847.8 26.9 L848.1 26.0 L848.3 25.0 L848.6 24.0 L848.9 23.1 L849.2 22.1 L849.4 21.2 L849.7 20.2 L850.1 19.3 L850.4 18.3 L850.7 17.4 L851.1 16.4 L851.5 15.5 L851.9 14.6 L852.3 13.7 L852.8 12.7 L853.3 11.8 L853.8 10.9 L854.3 10.0 L854.9 9.2 L855.6 8.3 L856.3 7.5 L857.0 6.9 L857.8 6.5 L858.6 6.4 L859.5 6.6 L860.4 7.1 L861.2 7.7 L862.0 8.5 L862.7 9.3 L863.3 10.2 L863.8 11.1 L864.2 12.0 L864.6 12.9 L864.9 13.8 L865.3 14.8 L865.7 15.7 L866.0 16.7 L866.4 17.6 L866.7 18.5 L867.0 19.5 L867.4 20.4 L867.7 21.4 L868.0 22.3 L868.3 23.3 L868.6 24.2 L868.9 25.2 L869.2 26.1 L869.5 27.1 L869.8 28.0 L870.0 29.0 L870.3 29.9 L870.6 30.9 L870.9 31.9 L871.1 32.8 L871.4 33.8 L871.6 34.8 L871.9 35.7 L872.1 36.7 L872.4 37.7 L872.6 38.6 L872.9 39.6 L873.1 40.6 L873.4 41.5 L873.6 42.5 L873.8 43.5 L874.1 44.5 L874.3 45.4 L874.5 46.4 L874.8 47.4 L875.0 48.3 L875.2 49.3 L875.5 50.3 L875.7 51.3 L875.9 52.2 L876.1 53.2 L876.4 54.2 L876.6 55.2 L876.8 56.1 L877.0 57.1 L877.3 58.1 L877.5 59.1 L877.7 60.0 L878.0 61.0 L878.2 62.0 L878.4 63.0 L878.6 63.9 L878.9 64.9 L879.1 65.9 L879.3 66.9 L879.5 67.8 L879.8 68.8 L880.0 69.8 L880.2 70.8 L880.5 71.7 L880.7 72.7 L880.9 73.7 L881.1 74.7 L881.4 75.6 L881.6 76.6 L881.8 77.6 L882.1 78.6 L882.3 79.5 L882.5 80.5 L882.8 81.5 L883.0 82.4 L883.2 83.4 L883.5 84.4 L883.7 85.4 L884.0 86.3 L884.2 87.3 L884.4 88.3 L884.7 89.2 L884.9 90.2 L885.2 91.2 L885.4 92.1 L885.7 93.1 L885.9 94.1 L886.2 95.0 L886.4 96.0 L886.7 97.0 L886.9 97.9 L887.2 98.9 L887.5 99.8 L887.7 100.8 L888.0 101.8 L888.3 102.7 L888.5 103.7 L888.8 104.6 L889.1 105.6 L889.3 106.6 L889.6 107.5 L889.9 108.5 L890.2 109.4 L890.5 110.4 L890.8 111.4 L891.1 112.3 L891.3 113.3 L891.6 114.2 L891.9 115.2 L892.2 116.1 L892.5 117.1 L892.9 118.1 L893.2 119.0 L893.5 120.0 L893.8 120.9 L894.1 121.9 L894.4 122.8 L894.8 123.8 L895.1 124.7 L895.4 125.7 L895.8 126.6 L896.1 127.6 L896.5 128.5 L896.9 129.4 L897.2 130.4 L897.6 131.3 L898.0 132.2 L898.4 133.2 L898.8 134.1 L899.2 135.0 L899.6 135.9 L900.0 136.8 L900.5 137.7 L900.9 138.6 L901.4 139.5 L901.9 140.4 L902.3 141.2 L902.8 142.1 L903.3 142.9 L903.8 143.8 L904.4 144.6 L904.9 145.5 L905.4 146.3 L906.0 147.1 L906.6 147.9 L907.2 148.7 L907.8 149.5 L908.4 150.3 L909.0 151.1 L909.7 151.8 L910.3 152.6 L911.0 153.3 L911.7 154.0 L912.4 154.7 L913.1 155.4 L913.9 156.1 L914.6 156.8 L915.4 157.4 L916.2 158.1 L917.0 158.7 L917.8 159.3 L918.6 159.8 L919.5 160.4 L920.3 160.9 L921.2 161.4 L922.1 161.8 L923.0 162.3 L923.9 162.7 L924.8 163.1 L925.7 163.5 L926.7 163.8 L927.6 164.2 L928.6 164.5 L929.5 164.8 L930.5 165.0 L931.5 165.3 L932.4 165.5 L933.4 165.7 L934.3 165.9 L935.3 166.1 L936.3 166.3 L937.2 166.4 L938.2 166.6 L939.2 166.7 L940.2 166.9 L941.1 167.1 L942.1 167.2 L943.1 167.4 L944.1 167.6 L945.1 167.8 L946.1 168.0 L947.1 168.2 L948.1 168.4 L949.1 168.5 L950.1 168.6 L951.0 168.5 L952.0 168.4 L952.9 168.1 L953.8 167.7 L954.7 167.2 L955.6 166.5 L956.5 165.9 L957.3 165.3 L958.2 164.8 L959.2 164.4 L960.1 164.3 L961.1 164.3 L962.0 164.4 L962.9 164.7 L963.8 165.1 L964.7 165.6 L965.5 166.2 L966.2 166.8 L967.0 167.5 L967.7 168.1 L968.6 168.6 L969.4 169.0 L970.3 169.4 L971.2 169.6 L972.2 169.9 L973.2 170.0 L974.2 170.1 L975.2 170.1 L976.2 170.1 L977.3 170.0 L978.3 170.0 L979.4 169.8 L980.4 169.7 L981.5 169.6 L982.5 169.4 L983.5 169.2 L984.4 169.1 L985.4 168.9 L986.3 168.8 L987.3 168.7 L988.2 168.8 L989.1 168.9 L990.1 169.1 L991.1 169.3 L992.1 169.5 L993.1 169.7 L994.0 169.8 L995.0 169.8 L996.0 169.8 L997.0 169.7 L998.0 169.7 L998.9 169.8 L999.9 169.9 L1000.9 170.0 L1001.9 170.2 L1002.9 170.3 L1003.9 170.5 L1004.9 170.7 L1005.9 170.8 L1006.9 171.0 L1007.9 171.0 L1008.9 171.1 L1009.9 171.0 L1010.8 170.9 L1011.8 170.7 L1012.7 170.4 L1013.7 169.9 L1014.6 169.4 L1015.0 169.1" fill="none" stroke="#f00" stroke-width="2.1" stroke-linejoin="round" stroke-linecap="butt"/>
</svg>
</body></html>
